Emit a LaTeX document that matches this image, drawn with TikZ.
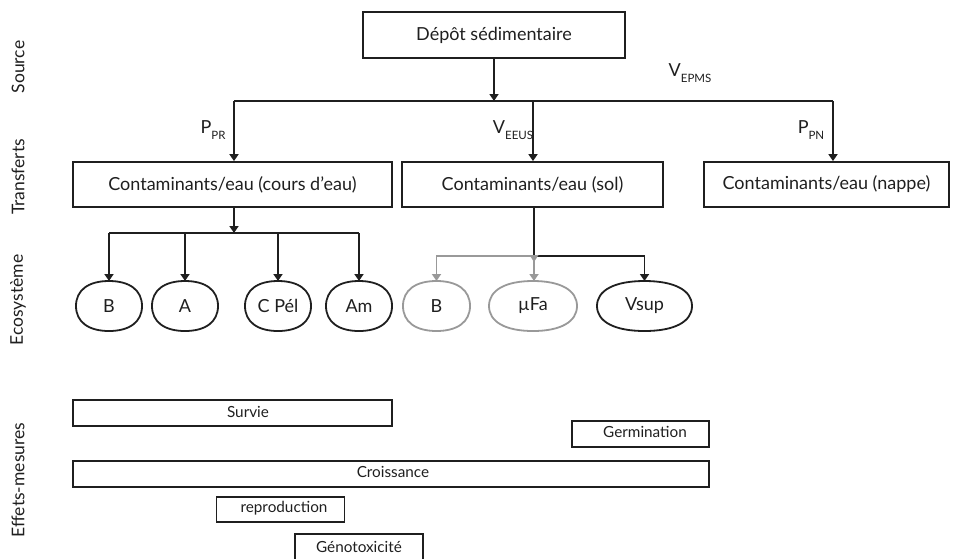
\documentclass[tikz,border=0pt]{standalone}
\usepackage{fontspec}
\setmainfont{Lato}
\usetikzlibrary{arrows.meta,calc}
\definecolor{lgrey}{gray}{0.6}
\definecolor{ink}{gray}{0.12}
\newcommand{\sbs}[1]{\raisebox{-5.5pt}{\fontsize{11.5}{12}\selectfont #1}}
\newcommand{\superell}[2]{%
  \draw[draw=#1, line width=1.8pt]
   (#2.west) .. controls ($(#2.west)!0.63!(#2.north west)$) and ($(#2.north)!0.63!(#2.north west)$) .. (#2.north)
   .. controls ($(#2.north)!0.63!(#2.north east)$) and ($(#2.east)!0.63!(#2.north east)$) .. (#2.east)
   .. controls ($(#2.east)!0.63!(#2.south east)$) and ($(#2.south)!0.63!(#2.south east)$) .. (#2.south)
   .. controls ($(#2.south)!0.63!(#2.south west)$) and ($(#2.west)!0.63!(#2.south west)$) .. (#2.west) -- cycle;}
\tikzset{
  every node/.style={font=\fontsize{18}{20}\selectfont, text=ink},
  box/.style={draw=ink, line width=1.8pt, rectangle, inner sep=0pt},
  eco/.style={rectangle, inner sep=0pt, outer sep=0pt, minimum height=50pt},
  ecog/.style={eco},
  bar/.style={draw=ink, line width=1.8pt, rectangle, inner sep=0pt, minimum height=26pt},
  small/.style={font=\fontsize{15.3}{17}\selectfont},
  conn/.style={draw=ink, line width=1.8pt, -{Triangle[width=9pt,length=7pt]}},
  line/.style={draw=ink, line width=1.8pt},
  connG/.style={draw=lgrey, line width=1.8pt, -{Triangle[width=9pt,length=7pt]}},
  side/.style={rotate=90, anchor=center, font=\fontsize{17.5}{19}\selectfont},
}
\begin{document}
\begin{tikzpicture}[x=1pt,y=-1pt]
\useasboundingbox (0,0) rectangle (956,558);
% side labels
\node[side] (sSource) at (18,67) {Source};
\node[side] (sTrans) at (18,177) {Transferts};
\node[side] (sEco) at (18,300) {Ecosystème};
\node[side] (sEff) at (18,480) {Effets-mesures};
% source
\node[box, minimum width=262pt, minimum height=46pt] (depot) at (494,35) {Dépôt sédimentaire};
\coordinate (jtop) at (494,101);
\coordinate (jl) at (234,101);
\coordinate (jm) at (533,101);
\coordinate (jr) at (833,101);
\draw[conn] (depot.south -| jtop) -- (jtop);
\draw[line] (jl) -- (jr);
% transfer boxes
\node[box, minimum width=319pt, minimum height=45pt] (t1) at (232.5,184.5) {Contaminants/eau (cours d’eau)};
\node[box, minimum width=261pt, minimum height=45pt] (t2) at (532.5,184.5) {Contaminants/eau (sol)};
\node[box, minimum width=245pt, minimum height=45pt] (t3) at (826.5,184.5) {Contaminants/eau (nappe)};
\draw[conn] (jl) -- (jl |- t1.north);
\draw[conn] (jm) -- (jm |- t2.north);
\draw[conn] (jr) -- (jr |- t3.north);
\node (lPPR) at (213,130) {P\sbs{PR}};
\node (lVEEUS) at (513,130) {V\sbs{EEUS}};
\node (lPPN) at (811,130) {P\sbs{PN}};
\node (lVEPMS) at (690,73) {V\sbs{EPMS}};
% ecosystem
\node[eco, minimum width=66pt] (eB) at (109,306) {B};
\node[eco, minimum width=66pt] (eA) at (185,306) {A};
\node[eco, minimum width=66pt] (eC) at (278,306) {C Pél};
\node[eco, minimum width=66pt] (eAm) at (359,306) {Am};
\node[ecog, minimum width=67pt] (gB) at (436.5,306) {B};
\node[ecog, minimum width=88pt] (gF) at (533,306) {µFa};
\node[eco, minimum width=95pt] (eV) at (644.5,306) {Vsup};
\superell{ink}{eB}
\superell{ink}{eA}
\superell{ink}{eC}
\superell{ink}{eAm}
\superell{lgrey}{gB}
\superell{lgrey}{gF}
\superell{ink}{eV}
% water branches
\coordinate (w1) at (234,233);
\draw[conn] (t1.south -| w1) -- (w1);
\draw[line] (eB.north |- w1) -- (eAm.north |- w1);
\draw[conn] (eB.north |- w1) -- (eB.north);
\draw[conn] (eA.north |- w1) -- (eA.north);
\draw[conn] (eC.north |- w1) -- (eC.north);
\draw[conn] (eAm.north |- w1) -- (eAm.north);
% soil branches
\coordinate (w2) at (534,256);
\draw[connG] (w2) -| (gB.north);
\draw[connG] (w2) -- (w2 |- gF.north);
\draw[line] (t2.south -| w2) -- (w2);
\draw[conn] (w2) -| (eV.north);
\fill[lgrey] (529.5,255) -- (538.5,255) -- (534,262) -- cycle;
% effects
\node[bar, minimum width=319pt] (bSurvie) at (232.5,413) {};
\node[small] (tSurvie) at (248,412) {Survie};
\node[bar, minimum width=137pt] (bGerm) at (640.5,434) {};
\node[small] (tGerm) at (645,432) {Germination};
\node[bar, minimum width=636pt] (bCrois) at (391,474) {};
\node[small] (tCrois) at (393,472) {Croissance};
\node[bar, minimum width=128pt, minimum height=25pt] (bRepro) at (280.5,509.5) {};
\node[small] (tRepro) at (284,508) {reproduction};
\node[bar, minimum width=128pt, minimum height=30pt] (bGeno) at (359,549) {};
\node[small] (tGeno) at (359,547) {Génotoxicité};
\end{tikzpicture}
\end{document}
